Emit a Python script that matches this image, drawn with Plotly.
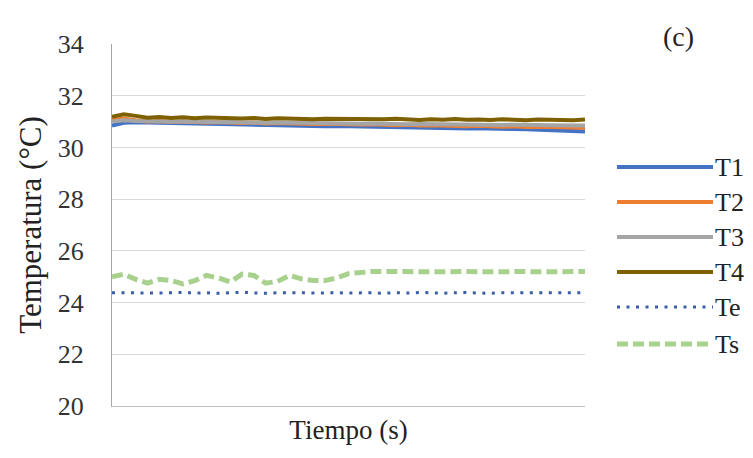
import plotly.graph_objects as go

time = [i * 2.5 for i in range(41)]

T1 = [30.85, 30.95, 30.97, 30.96, 30.95, 30.95, 30.93, 30.92, 30.90, 30.92,
      30.90, 30.88, 30.87, 30.88, 30.86, 30.85, 30.85, 30.84, 30.82, 30.83,
      30.82, 30.80, 30.80, 30.78, 30.79, 30.76, 30.77, 30.75, 30.75, 30.74,
      30.73, 30.74, 30.72, 30.70, 30.71, 30.70, 30.68, 30.67, 30.66, 30.64, 30.62]
T2 = [31.05, 31.12, 31.05, 31.00, 31.02, 30.98, 31.00, 30.97, 30.96, 30.98,
      30.95, 30.94, 30.96, 30.93, 30.94, 30.92, 30.93, 30.91, 30.92, 30.90,
      30.91, 30.89, 30.90, 30.88, 30.86, 30.88, 30.85, 30.86, 30.84, 30.85,
      30.82, 30.84, 30.82, 30.80, 30.82, 30.79, 30.80, 30.78, 30.79, 30.77, 30.76]
T3 = [31.00, 31.05, 31.02, 31.00, 31.01, 30.99, 31.00, 30.98, 30.99, 30.97,
      30.98, 30.96, 30.97, 30.95, 30.96, 30.95, 30.94, 30.95, 30.93, 30.94,
      30.93, 30.92, 30.93, 30.91, 30.92, 30.90, 30.91, 30.90, 30.89, 30.90,
      30.88, 30.89, 30.88, 30.87, 30.88, 30.86, 30.87, 30.86, 30.85, 30.86, 30.85]
T4 = [31.18, 31.28, 31.22, 31.15, 31.18, 31.14, 31.17, 31.13, 31.16, 31.14,
      31.15, 31.12, 31.14, 31.10, 31.13, 31.11, 31.12, 31.09, 31.11, 31.10,
      31.12, 31.08, 31.10, 31.09, 31.11, 31.08, 31.06, 31.09, 31.07, 31.10,
      31.07, 31.08, 31.06, 31.09, 31.07, 31.05, 31.08, 31.06, 31.07, 31.05, 31.08]
Te = [24.38, 24.37, 24.38, 24.38, 24.37, 24.38, 24.39, 24.37, 24.38, 24.36,
      24.38, 24.40, 24.37, 24.36, 24.38, 24.39, 24.38, 24.37, 24.38, 24.38,
      24.37, 24.38, 24.38, 24.36, 24.38, 24.37, 24.39, 24.38, 24.36, 24.38,
      24.39, 24.37, 24.36, 24.38, 24.38, 24.37, 24.38, 24.38, 24.37, 24.38, 24.38]
Ts = [25.00, 25.10, 24.90, 24.75, 24.90, 24.85, 24.72, 24.85, 25.05, 24.95,
      24.80, 25.10, 25.05, 24.75, 24.82, 25.05, 24.92, 24.85, 24.85, 24.95,
      25.12, 25.18, 25.20, 25.20, 25.22, 25.20, 25.19, 25.20, 25.21, 25.20,
      25.20, 25.19, 25.20, 25.21, 25.20, 25.20, 25.19, 25.20, 25.20, 25.20, 25.20]

y_ticks = [20, 22, 24, 26, 28, 30, 32, 34]

series = [
    ("T1", T1, "#4472C4", 4, "solid"),
    ("T2", T2, "#ED7D31", 4, "solid"),
    ("T3", T3, "#A5A5A5", 4, "solid"),
    ("T4", T4, "#7F6000", 4, "solid"),
    ("Te", Te, "#3B5EA8", 3, "3px,6.5px"),
    ("Ts", Ts, "#A9D18E", 5, "11px,5px"),
]

FONT = "Liberation Serif, Times New Roman, serif"

fig = go.Figure()
for name, vals, color, w, dash in series:
    fig.add_trace(go.Scatter(x=time, y=vals, mode="lines", name=name,
                             line=dict(color=color, width=w, dash=dash),
                             showlegend=False))

# custom legend (long line samples as in the original)
legend_py = [167, 202, 237, 272, 307, 344]
shapes = []
annotations = []
for (name, vals, color, w, dash), py in zip(series, legend_py):
    yp = (406 - py) / 362
    shapes.append(dict(type="line", xref="paper", yref="paper",
                       x0=(617 - 112) / 473, x1=(713 - 112) / 473, y0=yp, y1=yp,
                       line=dict(color=color, width=w, dash=dash)))
    annotations.append(dict(xref="paper", yref="paper", x=(713 - 112) / 473, y=yp,
                            text=name, showarrow=False, xanchor="left", yanchor="middle",
                            font=dict(family=FONT, size=26, color="#222")))

annotations.append(dict(xref="paper", yref="paper", x=(678 - 112) / 473, y=(406 - 36) / 362,
                        text="(c)", showarrow=False, xanchor="center", yanchor="middle",
                        font=dict(family=FONT, size=28, color="#222")))

fig.update_layout(
    width=753, height=458,
    margin=dict(l=104, r=176, t=36, b=60),
    paper_bgcolor="white", plot_bgcolor="white",
    font=dict(family=FONT, size=26, color="#333"),
    shapes=shapes, annotations=annotations,
    xaxis=dict(range=[0, 100], showticklabels=False, ticks="", showgrid=False,
               zeroline=False, showline=True, linecolor="#BFBFBF", linewidth=1,
               title=dict(text="Tiempo (s)", font=dict(family=FONT, size=27, color="#222"),
                          standoff=14)),
    yaxis=dict(range=[20, 34], tickvals=y_ticks, ticktext=[str(v) for v in y_ticks],
               showgrid=True, gridcolor="#D9D9D9", gridwidth=1, zeroline=False,
               showline=True, linecolor="#A6A6A6", linewidth=1, ticks="",
               ticklabelstandoff=22,
               tickfont=dict(family=FONT, size=26, color="#333"),
               title=dict(text="Temperatura (°C)", font=dict(family=FONT, size=31, color="#222"),
                          standoff=6)),
)

fig.write_html("out.html")
